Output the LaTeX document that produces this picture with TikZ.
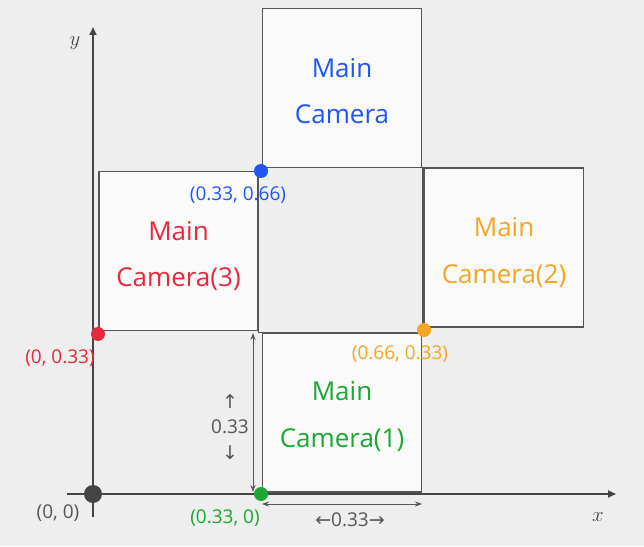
\documentclass[tikz,border=0pt]{standalone}
\usepackage{fontspec}
\setmainfont{Open Sans}
\newfontfamily\arrowfont{DejaVu Sans}
\usetikzlibrary{arrows.meta,positioning}
\definecolor{bgx}{HTML}{EEEEEE}
\definecolor{boxfill}{HTML}{FAFAFA}
\definecolor{linex}{HTML}{555555}
\definecolor{axisx}{HTML}{444444}
\definecolor{bluex}{HTML}{1F56F5}
\definecolor{redx}{HTML}{E8283C}
\definecolor{orangex}{HTML}{F5A520}
\definecolor{greenx}{HTML}{1AA832}
\tikzset{
  ax/.style={-{Triangle[length=8pt,width=7pt]},line width=2.6pt,axisx},
  axlab/.style={font=\fontsize{21}{21}\selectfont,text=axisx,inner sep=0pt},
  sq/.style={draw=linex,line width=1.6pt,fill=bgx},
  cam/.style={draw=linex,line width=1.6pt,fill=boxfill,minimum width=159pt,minimum height=159pt,inner sep=0pt},
  camtext/.style={inner sep=0pt,align=center,font=\fontsize{26}{46.5}\selectfont},
  dot/.style={circle,fill,inner sep=0pt,minimum size=14pt},
  lab/.style={font=\fontsize{19}{25.5}\selectfont,inner sep=0pt,align=center},
  dim/.style={{Stealth[length=7pt,width=5pt]}-{Stealth[length=7pt,width=5pt]},line width=0.8pt,linex}
}
\begin{document}
\begin{tikzpicture}[x=1pt,y=1pt]
\useasboundingbox[fill=bgx] (-93,-52) rectangle (551,494);
% axes
\coordinate (xs) at (-26,0);
\coordinate (xe) at (523,0);
\coordinate (ys) at (0,-23);
\coordinate (ye) at (0,467);
\draw[ax] (xs)--(xe);
\draw[ax] (ys)--(ye);
\node[axlab] (xl) at (505,-23) {$x$};
\node[axlab] (yl) at (-18,451) {$y$};
% middle square and the four cameras
\draw[sq] (165.5,161.3) rectangle (330,326.3);
\node[cam] (cam0) at (249,406) {};
\node[cam] (cam3) at (85.5,243) {};
\node[cam] (cam2) at (411,246.5) {};
\node[cam] (cam1) at (249,81.5) {};
\node[camtext,text=bluex] (cam0t) at ([yshift=-3pt]cam0.center) {Main\\Camera};
\node[camtext,text=redx] (cam3t) at ([yshift=-5pt]cam3.center) {Main\\Camera(3)};
\node[camtext,text=orangex] (cam2t) at ([yshift=-5pt]cam2.center) {Main\\Camera(2)};
\node[camtext,text=greenx] (cam1t) at ([yshift=-4pt]cam1.center) {Main\\Camera(1)};
% corner points
\node[dot,axisx,minimum size=18pt] (o) at (0,0) {};
\node[dot,bluex] (pb) at (168,323) {};
\node[dot,redx] (pr) at (5,160) {};
\node[dot,orangex] (po) at (331,164) {};
\node[dot,greenx] (pg) at (168,0) {};
\node[lab,text=linex] (lo) at (-35,-19) {(0, 0)};
\node[lab,text=bluex] (lb) at (145,299) {(0.33, 0.66)};
\node[lab,text=redx] (lr) at (-33,136) {(0, 0.33)};
\node[lab,text=orangex] (lor) at (307,140) {(0.66, 0.33)};
\node[lab,text=greenx] (lg) at (132,-24) {(0.33, 0)};
% sizes
\coordinate (vt) at (160,161);
\coordinate (vb) at (160,2);
\coordinate (hl) at (169,-10);
\coordinate (hr) at (329,-10);
\draw[dim] (vt)--(vb);
\draw[dim] (hl)--(hr);
\node[lab,text=linex] (dv) at (137,67) {{\arrowfont ↑}\\0.33\\{\arrowfont ↓}};
\node[lab,text=linex] (dh) at (257,-26) {{\arrowfont ←}0.33{\arrowfont →}};
\end{tikzpicture}
\end{document}
